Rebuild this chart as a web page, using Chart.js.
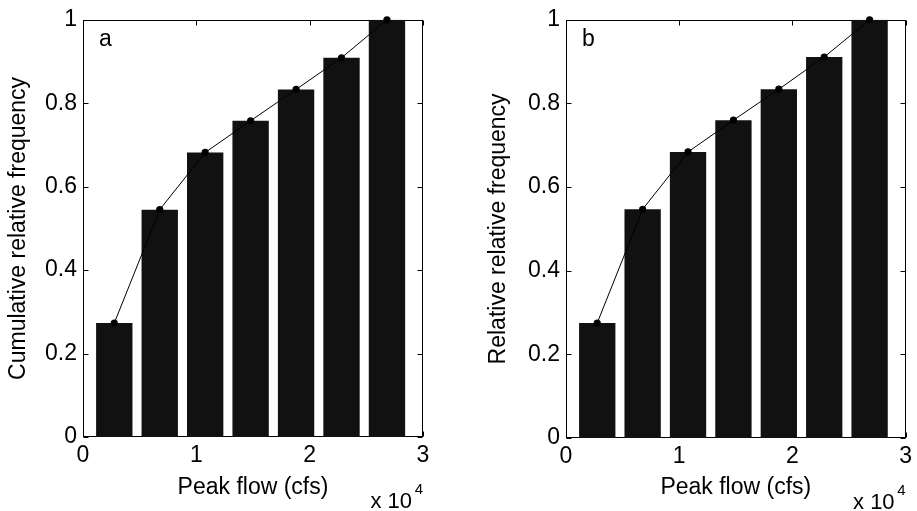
<!DOCTYPE html>
<html><head><meta charset="utf-8">
<script src="https://cdn.jsdelivr.net/npm/chart.js@4/dist/chart.umd.min.js"></script>
<style>
html,body{margin:0;padding:0;background:#fff;width:917px;height:511px;overflow:hidden}
.wrap{position:absolute;top:0;height:511px}
</style></head><body>
<div class="wrap" style="left:0;width:458px"><canvas id="c1"></canvas></div>
<div class="wrap" style="left:481px;width:436px"><canvas id="c2"></canvas></div>
<script>
// ---- data (x in units of 10^4 cfs) ----
const binCenters = [0.276, 0.677, 1.078, 1.479, 1.880, 2.281, 2.682];
const cumulativeFreq = [0.273, 0.545, 0.682, 0.758, 0.833, 0.909, 1.0];
const relativeFreq = [0.275, 0.547, 0.684, 0.760, 0.834, 0.911, 1.0];
const xTickLabels = ['0', '1', '2', '3'];
const yTickLabels = ['0', '0.2', '0.4', '0.6', '0.8', '1'];
const xTitle = 'Peak flow (cfs)';
const yTitles = ['Cumulative relative frequency', 'Relative relative frequency'];
const panelLetters = ['a', 'b'];
const xMultiplierText = 'x 10';
const xExponent = '4';

const FONT = '"Liberation Sans", Arial, Helvetica, sans-serif';
Chart.defaults.font.family = FONT;
Chart.defaults.color = '#000';

const framePlugin = {
  id: 'frame',
  beforeDatasetsDraw(chart) {
    const {ctx, chartArea: a, scales: {x, y}} = chart;
    ctx.save();
    ctx.strokeStyle = '#000';
    ctx.lineWidth = 1;
    const L = Math.round(a.left) + 0.5, R = Math.round(a.right) - 0.5;
    const T = Math.round(a.top) + 0.5, B = Math.round(a.bottom) - 0.5;
    ctx.strokeRect(L, T, R - L, B - T);
    const tl = 5;
    ctx.beginPath();
    x.ticks.forEach(t => {
      const px = Math.round(x.getPixelForValue(t.value)) + 0.5;
      ctx.moveTo(px, B); ctx.lineTo(px, B - tl);
      ctx.moveTo(px, T); ctx.lineTo(px, T + tl);
    });
    y.ticks.forEach(t => {
      const py = Math.round(y.getPixelForValue(t.value)) + 0.5;
      ctx.moveTo(L, py); ctx.lineTo(L + tl, py);
      ctx.moveTo(R, py); ctx.lineTo(R - tl, py);
    });
    ctx.stroke();
    ctx.restore();
  },
  afterDraw(chart, args, opts) {
    const {ctx, chartArea: a} = chart;
    ctx.save();
    ctx.fillStyle = '#000';
    ctx.textBaseline = 'alphabetic';
    ctx.font = '23px ' + FONT;
    ctx.textAlign = 'left';
    ctx.fillText(opts.letter, a.left + 16, a.top + 26);
    ctx.textAlign = 'right';
    ctx.font = '15px ' + FONT;
    ctx.fillText(xExponent, a.right, a.bottom + 57);
    ctx.font = '22px ' + FONT;
    ctx.fillText(xMultiplierText, a.right - 11, a.bottom + 71);
    ctx.restore();
  }
};

function makeChart(id, values, yTitle, letter, cfg) {
  const pts = binCenters.map((c, i) => ({x: c, y: values[i]}));
  return new Chart(document.getElementById(id), {
    type: 'bar',
    data: {
      datasets: [
        {
          type: 'line', data: pts, order: 0, clip: false,
          borderColor: '#000', borderWidth: 1, backgroundColor: '#000',
          pointRadius: 3.6, pointBackgroundColor: '#000', pointBorderWidth: 0,
          tension: 0
        },
        {
          type: 'bar', data: pts, order: 1,
          backgroundColor: '#111111', borderColor: '#2a2a2a', borderWidth: 0,
          categoryPercentage: 1.0, barPercentage: 0.8
        }
      ]
    },
    options: {
      responsive: true, maintainAspectRatio: false, animation: false,
      events: [],
      layout: {padding: {top: 15, right: cfg.padRight, left: 0, bottom: 0}},
      plugins: {legend: {display: false}, tooltip: {enabled: false}, frame: {letter}},
      scales: {
        x: {
          type: 'linear', min: 0, max: 3, offset: false,
          grid: {display: false, drawTicks: false},
          border: {display: false},
          ticks: {stepSize: 1, autoSkip: false, maxRotation: 0, padding: 5,
                  font: {size: 23}, callback: (v) => xTickLabels[Math.round(v)]},
          title: {display: true, text: xTitle, font: {size: 23}, padding: {top: 0, bottom: 10}},
          afterFit: (s) => { s.height = cfg.xH; }
        },
        y: {
          type: 'linear', min: 0, max: 1,
          grid: {display: false, drawTicks: false},
          border: {display: false},
          ticks: {stepSize: 0.2, autoSkip: false, padding: 6,
                  font: {size: 23}, callback: (v) => yTickLabels[Math.round(v * 5)]},
          title: {display: true, text: yTitle, font: {size: 23}, padding: {top: cfg.yTitlePad, bottom: 0}},
          afterFit: (s) => { s.width = cfg.yW; }
        }
      }
    },
    plugins: [framePlugin]
  });
}

makeChart('c1', cumulativeFreq, yTitles[0], panelLetters[0], {padRight: 35, xH: 74, yW: 83, yTitlePad: 5});
makeChart('c2', relativeFreq, yTitles[1], panelLetters[1], {padRight: 11, xH: 73, yW: 85, yTitlePad: 4});
</script>
</body></html>
